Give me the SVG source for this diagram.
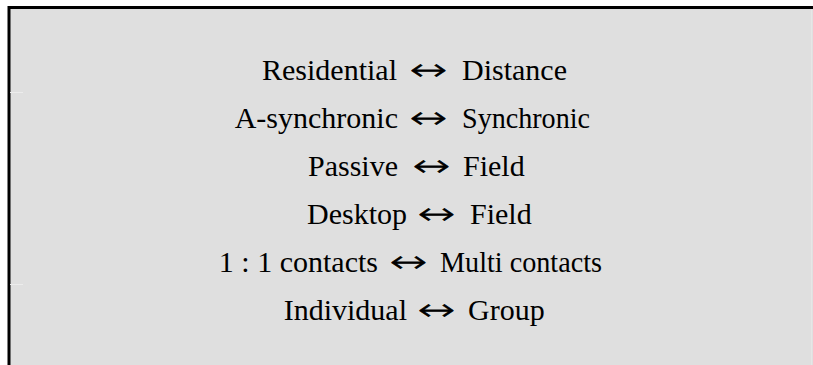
<svg xmlns="http://www.w3.org/2000/svg" width="813" height="365" viewBox="0 0 813 365">
<style>
text{font-family:'Liberation Serif','Times New Roman',serif;font-size:30px;fill:#000}
.l{text-anchor:end}
.r{text-anchor:start}
.a{font-family:'DejaVu Sans ExtraLight','DejaVu Sans',sans-serif;font-weight:200;font-size:30px;text-anchor:middle;stroke:#000;stroke-width:0.6}
</style>
<rect x="0" y="0" width="813" height="365" fill="#ffffff"/>
<g id="panel">
<rect x="8" y="6" width="805" height="365" fill="#dfdfdf"/>
<line x1="8" y1="7.5" x2="813" y2="7.5" stroke="#000" stroke-width="3"/>
<line x1="9" y1="6" x2="9" y2="365" stroke="#000" stroke-width="3"/>
<line x1="811.5" y1="9" x2="811.5" y2="365" stroke="#e6e6e6" stroke-width="1"/>
<line x1="10" y1="92.5" x2="23" y2="92.5" stroke="#ececec" stroke-width="1"/>
<line x1="10" y1="284.5" x2="23" y2="284.5" stroke="#ececec" stroke-width="1"/>
</g>
<g id="l1">
<text class="l" x="397" y="80">Residential</text>
<text class="a" transform="translate(428,80) scale(1.5,1)">↔</text>
<text class="r" x="462" y="80">Distance</text>
</g>
<g id="l2">
<text class="l" x="398" y="128">A-synchronic</text>
<text class="a" transform="translate(428,128) scale(1.5,1)">↔</text>
<text class="r" x="462" y="128" textLength="128" lengthAdjust="spacingAndGlyphs">Synchronic</text>
</g>
<g id="l3">
<text class="l" x="398" y="176">Passive</text>
<text class="a" transform="translate(431,176) scale(1.5,1)">↔</text>
<text class="r" x="463" y="176">Field</text>
</g>
<g id="l4">
<text class="l" x="407" y="224">Desktop</text>
<text class="a" transform="translate(436,224) scale(1.5,1)">↔</text>
<text class="r" x="470" y="224">Field</text>
</g>
<g id="l5">
<text class="l" x="378" y="272">1 : 1 contacts</text>
<text class="a" transform="translate(408,272) scale(1.5,1)">↔</text>
<text class="r" x="440" y="272" textLength="162" lengthAdjust="spacingAndGlyphs">Multi contacts</text>
</g>
<g id="l6">
<text class="l" x="407" y="320">Individual</text>
<text class="a" transform="translate(436,320) scale(1.5,1)">↔</text>
<text class="r" x="468" y="320">Group</text>
</g>
</svg>
